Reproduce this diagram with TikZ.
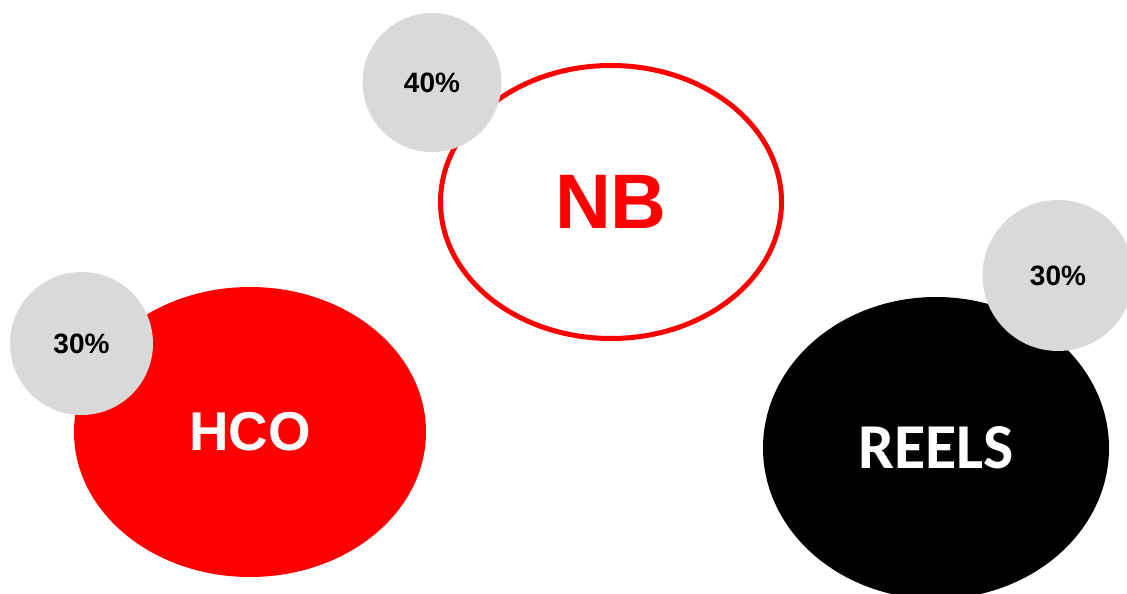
\documentclass[tikz,border=0pt]{standalone}
\usepackage{fontspec}
\setmainfont{Liberation Sans}
\newfontfamily\calibrifont{Carlito}
\usepackage{xcolor}
\usetikzlibrary{shapes.geometric}
\definecolor{brandred}{HTML}{FF0000}
\definecolor{pctgray}{HTML}{D9D9D9}

\begin{document}
\begin{tikzpicture}[
    x=0.75pt, y=0.75pt,
    bubble/.style={ellipse, inner sep=0pt, outer sep=0pt},
    pct/.style={circle, fill=pctgray, inner sep=0pt, minimum size=#1,
      text=black, font=\fontsize{21}{24}\selectfont\bfseries}
  ]
  \useasboundingbox (0,0) rectangle (1127,593);

  % three segments
  \node[bubble, fill=brandred, minimum width=264pt, minimum height=217.5pt,
    text=white, font=\fontsize{41}{48}\selectfont\bfseries] (hco) at (250,161) {HCO};
  \node[bubble, draw=brandred, line width=3.75pt, fill=white,
    minimum width=255.75pt, minimum height=204.75pt,
    text=brandred, font=\fontsize{58}{64}\selectfont\bfseries] (nb) at (611,391) {NB};
  \node[bubble, fill=black, minimum width=259.5pt, minimum height=226.5pt,
    text=white, font=\fontsize{48}{56}\calibrifont\bfseries] (reels) at (936,145) {REELS};

  % shares
  \node[pct=107.25pt] (hcopct) at (81.5,249.5) {30\%};
  \node[pct=104.25pt] (nbpct) at (432,510.5) {40\%};
  \node[pct=113.25pt] (reelspct) at (1058,317.5) {30\%};
\end{tikzpicture}
\end{document}
